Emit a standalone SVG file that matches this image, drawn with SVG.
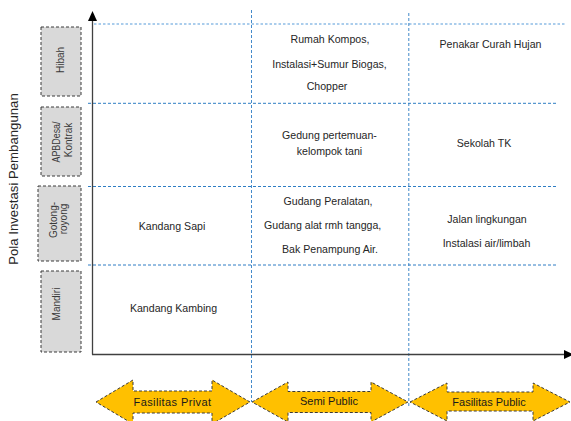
<svg xmlns="http://www.w3.org/2000/svg" width="571" height="421" viewBox="0 0 571 421">
<style>
.bg{fill:#ffffff}
.grid{stroke:#2e7dc4;stroke-width:1;stroke-dasharray:3 2;fill:none}
.gridtop{stroke:#8fbde6;stroke-width:1.6;stroke-dasharray:2.5 2;fill:none}
.vgrid{stroke:#2e7dc4;stroke-width:0.9;stroke-dasharray:3 2;fill:none}
.axis{stroke:#404040;stroke-width:1.3;fill:none}
.ahead{fill:#000000}
.box{fill:#d9d9d9;stroke:#3a3a3a;stroke-width:1;stroke-dasharray:3 2}
.blabel{font-family:"Liberation Sans",Arial,sans-serif;font-size:10px;fill:#3a3a3a;text-anchor:middle}
.cell{font-family:"Liberation Sans",Arial,sans-serif;font-size:10.6px;fill:#262626;text-anchor:middle}
.ylabel{font-family:"Liberation Sans",Arial,sans-serif;font-size:13.2px;fill:#262626;text-anchor:middle}
.arrow{fill:#ffc000;stroke:#3a3a3a;stroke-width:1;stroke-dasharray:3 2}
.alabel{font-family:"Liberation Sans",Arial,sans-serif;font-size:11px;fill:#1a1a1a;text-anchor:middle}
</style>
<rect class="bg" x="0" y="0" width="571" height="421"/>
<g id="grid">
<line class="gridtop" x1="94" y1="24" x2="566" y2="24"/>
<line class="grid" x1="88" y1="103.3" x2="558" y2="103.3"/>
<line class="grid" x1="88" y1="186.5" x2="558" y2="186.5"/>
<line class="grid" x1="88" y1="265" x2="558" y2="265"/>
<line class="vgrid" x1="251.5" y1="10" x2="251.5" y2="402"/>
<line class="vgrid" x1="408.8" y1="13" x2="408.8" y2="407"/>
</g>
<g id="connectors">
<line class="axis" x1="92.5" y1="20" x2="92.5" y2="354.5"/>
<polygon class="ahead" points="92.5,11 88,21 97,21"/>
<line class="axis" x1="92" y1="354.5" x2="564" y2="354.5"/>
<polygon class="ahead" points="574,354.5 564,350 564,359"/>
</g>
<g id="y-axis-label">
<text class="ylabel" transform="translate(18,179) rotate(-90)">Pola Investasi Pembangunan</text>
</g>
<g id="hibah">
<rect class="box" x="41" y="27" width="40" height="69"/>
<text class="blabel" transform="translate(63.5,60) rotate(-90)">Hibah</text>
</g>
<g id="apbdesa">
<rect class="box" x="41" y="107" width="40" height="69"/>
<text class="blabel" transform="translate(60,142) rotate(-90)" textLength="41" lengthAdjust="spacingAndGlyphs">APBDesa/</text>
<text class="blabel" transform="translate(71.5,140) rotate(-90)">Kontrak</text>
</g>
<g id="gotong-royong">
<rect class="box" x="38" y="186" width="43" height="75"/>
<text class="blabel" transform="translate(56.8,220) rotate(-90)">Gotong-</text>
<text class="blabel" transform="translate(66.8,219) rotate(-90)">royong</text>
</g>
<g id="mandiri">
<rect class="box" x="41" y="271" width="40" height="81"/>
<text class="blabel" transform="translate(60.2,304) rotate(-90)">Mandiri</text>
</g>
<g id="cell-hibah-semi">
<text class="cell" x="330" y="43">Rumah Kompos,</text>
<text class="cell" x="329.5" y="67.5">Instalasi+Sumur Biogas,</text>
<text class="cell" x="327" y="90">Chopper</text>
</g>
<g id="cell-hibah-public">
<text class="cell" x="490.5" y="47.5">Penakar Curah Hujan</text>
</g>
<g id="cell-apbdesa-semi">
<text class="cell" x="329.5" y="138.5">Gedung pertemuan-</text>
<text class="cell" x="329.5" y="154.5">kelompok tani</text>
</g>
<g id="cell-apbdesa-public">
<text class="cell" x="484" y="147">Sekolah TK</text>
</g>
<g id="cell-gotong-privat">
<text class="cell" x="172" y="229.5">Kandang Sapi</text>
</g>
<g id="cell-gotong-semi">
<text class="cell" x="328" y="204.5">Gudang Peralatan,</text>
<text class="cell" x="322.7" y="228.5">Gudang alat rmh tangga,</text>
<text class="cell" x="330" y="252.5">Bak Penampung Air.</text>
</g>
<g id="cell-gotong-public">
<text class="cell" x="487" y="222.5">Jalan lingkungan</text>
<text class="cell" x="486.5" y="247">Instalasi air/limbah</text>
</g>
<g id="cell-mandiri-privat">
<text class="cell" x="173.5" y="311.5">Kandang Kambing</text>
</g>
<g id="arrow-privat">
<path class="arrow" d="M96,402 L133,380 L133,391 L212,391 L212,380 L250,402 L212,424 L212,413 L133,413 L133,424 Z"/>
<text class="alabel" x="172.5" y="406" letter-spacing="0.4">Fasilitas Privat</text>
</g>
<g id="arrow-semi">
<path class="arrow" d="M252,402 L288,382 L288,391.5 L371,391.5 L371,382 L408,402 L371,422 L371,412.5 L288,412.5 L288,422 Z"/>
<text class="alabel" x="329" y="404.5">Semi Public</text>
</g>
<g id="arrow-public">
<path class="arrow" d="M410,402 L447,383 L447,392 L533,392 L533,383 L570,402 L533,421 L533,411 L447,411 L447,421 Z"/>
<text class="alabel" x="489" y="405.5">Fasilitas Public</text>
</g>
</svg>
